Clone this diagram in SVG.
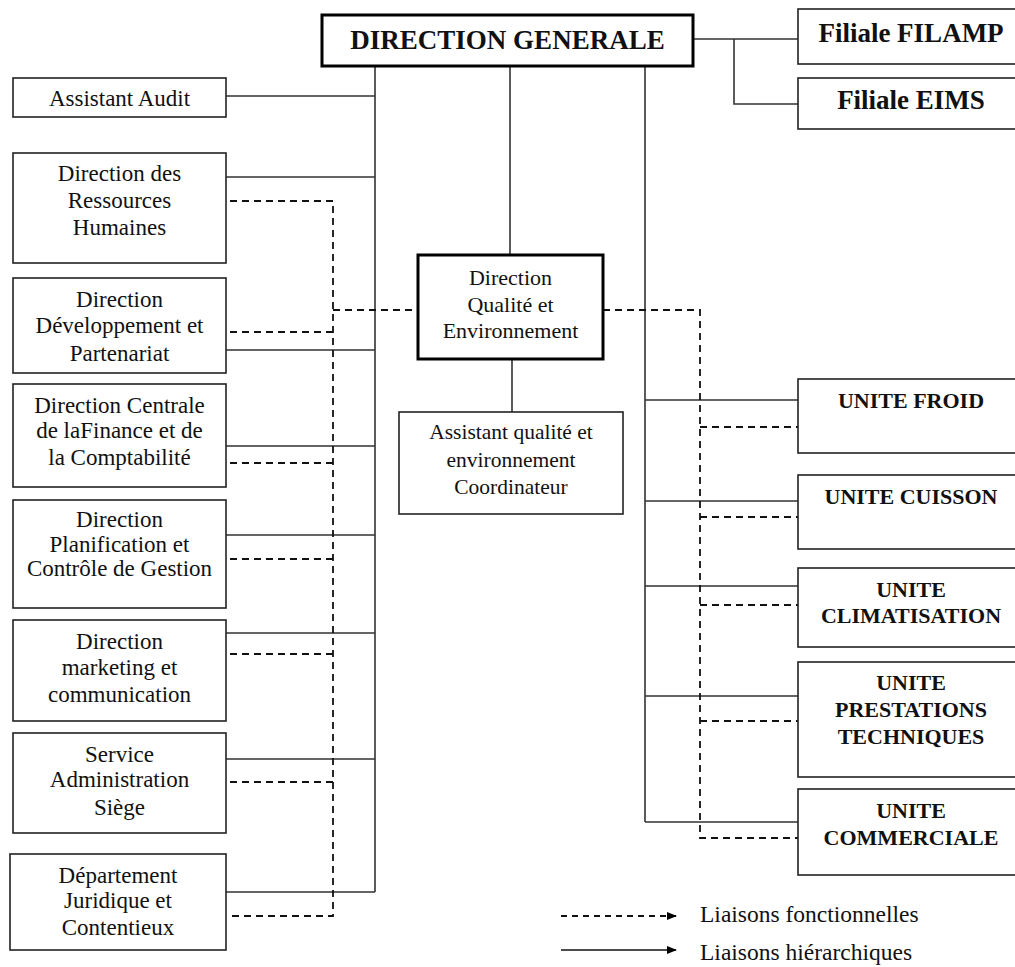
<svg xmlns="http://www.w3.org/2000/svg" width="1015" height="967" viewBox="0 0 1015 967">
<style>
.box{fill:#fff;stroke:#222;stroke-width:1.6}
.bold{fill:#fff;stroke:#000;stroke-width:3}
.t{font-family:"Liberation Serif","Times New Roman",serif;font-size:23px;fill:#111;text-anchor:middle}
.tb{font-family:"Liberation Serif","Times New Roman",serif;font-size:22px;font-weight:bold;fill:#111;text-anchor:middle}
.h{stroke:#333;stroke-width:1.6;fill:none}
.d{stroke:#111;stroke-width:1.8;fill:none;stroke-dasharray:7,5}
.lg{font-family:"Liberation Serif","Times New Roman",serif;font-size:23.5px;fill:#111}
</style>
<defs>
<marker id="arr" markerWidth="10" markerHeight="10" refX="9" refY="5" orient="auto" markerUnits="userSpaceOnUse">
<path d="M0,1 L10,5 L0,9 Z" fill="#000"/>
</marker>
</defs>
<rect width="1015" height="967" fill="#fff"/>

<g id="connectors">
<!-- hierarchical -->
<path class="h" d="M693,39 H798 M734,39 V104 H798"/>
<path class="h" d="M375,66 V892"/>
<path class="h" d="M510,66 V255"/>
<path class="h" d="M645,66 V822"/>
<path class="h" d="M512,359 V412"/>
<path class="h" d="M226,96 H375 M226,177 H375 M226,350 H375 M226,446 H375 M226,535 H375 M226,633 H375 M226,759 H375 M226,892 H375"/>
<path class="h" d="M645,400 H798 M645,501 H798 M645,586 H798 M645,696 H798 M645,822 H798"/>
<!-- functional -->
<path class="d" d="M230,201 H333 V916 H230"/>
<path class="d" d="M230,332 H333 M230,463 H333 M230,559 H333 M230,654 H333 M230,782 H333"/>
<path class="d" d="M333,310 H418"/>
<path class="d" d="M603,310 H700 V838 H798"/>
<path class="d" d="M700,427 H798 M700,517 H798 M700,605 H798 M700,721 H798"/>
</g>

<g id="dg"><rect class="bold" x="322" y="15" width="371" height="51"/><text class="tb" x="507.5" y="49" style="font-size:27px">DIRECTION GENERALE</text></g>
<g id="filamp"><rect class="box" x="798" y="9" width="230" height="55"/><text class="tb" x="911" y="42" style="font-size:27px">Filiale FILAMP</text></g>
<g id="eims"><rect class="box" x="798" y="78" width="230" height="51"/><text class="tb" x="911" y="109" style="font-size:27px">Filiale EIMS</text></g>

<g id="audit"><rect class="box" x="13" y="78" width="213" height="39"/><text class="t" x="119.5" y="106">Assistant Audit</text></g>
<g id="drh"><rect class="box" x="13" y="153" width="213" height="110"/><text class="t" x="119.5" y="181">Direction des</text><text class="t" x="119.5" y="208">Ressources</text><text class="t" x="119.5" y="235">Humaines</text></g>
<g id="ddp"><rect class="box" x="13" y="278" width="213" height="95"/><text class="t" x="119.5" y="307">Direction</text><text class="t" x="119.5" y="333">Développement et</text><text class="t" x="119.5" y="361">Partenariat</text></g>
<g id="dcfc"><rect class="box" x="13" y="384" width="213" height="103"/><text class="t" x="119.5" y="413">Direction Centrale</text><text class="t" x="119.5" y="438">de laFinance et de</text><text class="t" x="119.5" y="465">la Comptabilité</text></g>
<g id="dpcg"><rect class="box" x="13" y="500" width="213" height="108"/><text class="t" x="119.5" y="527">Direction</text><text class="t" x="119.5" y="552">Planification et</text><text class="t" x="119.5" y="576">Contrôle de Gestion</text></g>
<g id="dmc"><rect class="box" x="13" y="620" width="213" height="101"/><text class="t" x="119.5" y="649">Direction</text><text class="t" x="119.5" y="675">marketing et</text><text class="t" x="119.5" y="702">communication</text></g>
<g id="sas"><rect class="box" x="13" y="733" width="213" height="100"/><text class="t" x="119.5" y="762">Service</text><text class="t" x="119.5" y="787">Administration</text><text class="t" x="119.5" y="815">Siège</text></g>
<g id="djc"><rect class="box" x="10" y="854" width="216" height="96"/><text class="t" x="118" y="883">Département</text><text class="t" x="118" y="908">Juridique et</text><text class="t" x="118" y="935">Contentieux</text></g>

<g id="dqe"><rect class="bold" x="418" y="255" width="185" height="104"/><text class="t" x="510.5" y="285" style="font-size:22px">Direction</text><text class="t" x="510.5" y="312" style="font-size:22px">Qualité et</text><text class="t" x="510.5" y="338" style="font-size:22px">Environnement</text></g>
<g id="aqe"><rect class="box" x="399" y="412" width="224" height="102"/><text class="t" x="511" y="439" style="font-size:21.5px">Assistant qualité et</text><text class="t" x="511" y="467" style="font-size:21.5px">environnement</text><text class="t" x="511" y="494" style="font-size:21.5px">Coordinateur</text></g>

<g id="froid"><rect class="box" x="798" y="379" width="230" height="74"/><text class="tb" x="911" y="408">UNITE FROID</text></g>
<g id="cuisson"><rect class="box" x="798" y="475" width="230" height="74"/><text class="tb" x="911" y="504">UNITE CUISSON</text></g>
<g id="clim"><rect class="box" x="798" y="568" width="230" height="79"/><text class="tb" x="911" y="597">UNITE</text><text class="tb" x="911" y="623">CLIMATISATION</text></g>
<g id="presta"><rect class="box" x="798" y="662" width="230" height="115"/><text class="tb" x="911" y="690">UNITE</text><text class="tb" x="911" y="717">PRESTATIONS</text><text class="tb" x="911" y="744">TECHNIQUES</text></g>
<g id="comm"><rect class="box" x="798" y="789" width="230" height="86"/><text class="tb" x="911" y="818">UNITE</text><text class="tb" x="911" y="845">COMMERCIALE</text></g>

<g id="legend">
<line class="d" x1="561" y1="916" x2="676" y2="916" marker-end="url(#arr)" style="stroke-dasharray:6,5"/>
<line class="h" x1="561" y1="950" x2="676" y2="950" marker-end="url(#arr)" style="stroke:#111"/>
<text class="lg" x="700" y="922">Liaisons fonctionnelles</text>
<text class="lg" x="700" y="960">Liaisons hiérarchiques</text>
</g>
</svg>
